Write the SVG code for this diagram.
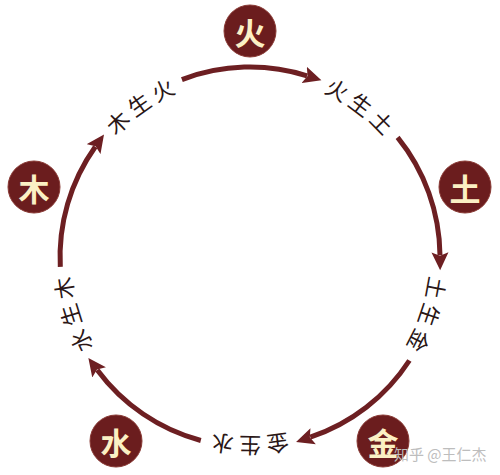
<svg xmlns="http://www.w3.org/2000/svg" xmlns:xlink="http://www.w3.org/1999/xlink" width="500" height="475" viewBox="0 0 500 475">
  <style>
    .arc { fill: none; stroke: #6d1f22; stroke-width: 5; marker-end: url(#arrow); }
    .node circle { fill: #6b1d1e; stroke: #8a3b36; stroke-width: 1; }
    .node text { fill: #fbf0c4; font-family: "Noto Sans CJK SC", "Noto Sans", sans-serif; font-size: 31px; font-weight: bold; text-anchor: middle; dominant-baseline: central; }
    .lbl { fill: #2a1616; font-family: "Noto Sans CJK SC", "Noto Sans", sans-serif; font-size: 22px; letter-spacing: 6px; dominant-baseline: central; }
    .wm { fill: #bdbdbd; font-family: "Noto Sans CJK SC", "Noto Sans", sans-serif; font-size: 15px; }
  </style>
  <defs>
    <marker id="arrow" markerUnits="userSpaceOnUse" viewBox="-3 -9 19 18" markerWidth="19" markerHeight="18" refX="0" refY="0" orient="auto">
      <path d="M15,0 L-3,-8.5 L0.5,0 L-3,8.5 Z" fill="#6d1f22"/>
    </marker>
    <path id="ring" d="M250,67 A190,190 0 1 1 250,447 A190,190 0 1 1 250,67"/>
  </defs>
  <rect width="500" height="475" fill="#ffffff"/>

  <g id="connectors">
    <path class="arc" d="M181.9,79.6 A190,190 0 0 1 307.1,75.8"/>
    <path class="arc" d="M397.6,137.4 A190,190 0 0 1 440.0,255.3"/>
    <path class="arc" d="M409.4,360.5 A190,190 0 0 1 310.3,437.2"/>
    <path class="arc" d="M200.8,440.5 A190,190 0 0 1 97.3,370.0"/>
    <path class="arc" d="M60.3,266.9 A190,190 0 0 1 95.3,146.7"/>
  </g>

  <g id="labels">
    <text class="lbl"><textPath xlink:href="#ring" href="#ring" startOffset="90.25%" text-anchor="middle">木生火</textPath></text>
    <text class="lbl"><textPath xlink:href="#ring" href="#ring" startOffset="10.25%" text-anchor="middle">火生土</textPath></text>
    <text class="lbl"><textPath xlink:href="#ring" href="#ring" startOffset="30.25%" text-anchor="middle">土生金</textPath></text>
    <text class="lbl"><textPath xlink:href="#ring" href="#ring" startOffset="50.25%" text-anchor="middle">金生水</textPath></text>
    <text class="lbl"><textPath xlink:href="#ring" href="#ring" startOffset="70.25%" text-anchor="middle">水生木</textPath></text>
  </g>

  <g id="node-huo" class="node">
    <circle cx="250" cy="31" r="26"/>
    <text x="250" y="31">火</text>
  </g>
  <g id="node-tu" class="node">
    <circle cx="465" cy="187" r="26"/>
    <text x="465" y="187">土</text>
  </g>
  <g id="node-jin" class="node">
    <circle cx="383" cy="441" r="26"/>
    <text x="383" y="441">金</text>
  </g>
  <g id="node-shui" class="node">
    <circle cx="116" cy="441" r="26"/>
    <text x="116" y="441">水</text>
  </g>
  <g id="node-mu" class="node">
    <circle cx="34" cy="187" r="26"/>
    <text x="34" y="187">木</text>
  </g>

  <text class="wm" x="394" y="460">知乎 @王仁杰</text>
</svg>
